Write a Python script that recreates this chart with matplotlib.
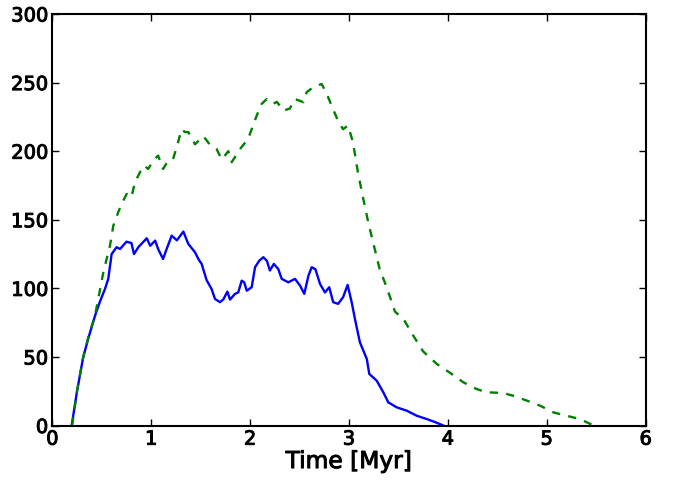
import matplotlib
matplotlib.use("Agg")
import matplotlib.pyplot as plt
import matplotlib.patheffects as pe

blue_x = [0.196, 0.25, 0.313, 0.37, 0.432, 0.48, 0.533, 0.566, 0.60, 0.65, 0.685, 0.75, 0.80, 0.826,
          0.87, 0.955, 0.99, 1.04, 1.07, 1.12, 1.15, 1.207, 1.26, 1.325, 1.375, 1.443, 1.48, 1.51,
          1.56, 1.61, 1.645, 1.696, 1.73, 1.77, 1.797, 1.847, 1.88, 1.915, 1.94, 1.966, 2.016, 2.05,
          2.093, 2.134, 2.17, 2.20, 2.24, 2.285, 2.32, 2.386, 2.454, 2.505, 2.548, 2.59, 2.623, 2.66,
          2.707, 2.757, 2.80, 2.84, 2.89, 2.94, 2.986, 3.027, 3.06, 3.11, 3.18, 3.205, 3.28, 3.347,
          3.397, 3.48, 3.584, 3.685, 3.786, 3.87, 3.953]
blue_y = [0, 25, 50, 65, 80, 90, 99.6, 107, 125, 130, 128.7, 134, 133, 125,
          130, 136.5, 131, 134.8, 128.7, 121.4, 127.5, 138.4, 135, 141.4, 132.4, 126.3, 121, 117.8,
          106, 99.6, 92.3, 89.9, 92, 97.6, 91.8, 96, 97, 105.6, 104.4, 98.3, 100.8, 115.4,
          120.2, 122.7, 120, 113, 117.8, 114, 106.9, 104.4, 106.9, 102, 96, 109.3, 115.4, 114,
          103.2, 97, 100.8, 89.9, 88.7, 93.5, 102.5, 89.9, 77.7, 60.7, 48.5, 37.6, 32.7, 24.2,
          16.9, 13.3, 10.8, 7.1, 4.7, 2.5, 0]

green_x = [0.20, 0.25, 0.313, 0.37, 0.432, 0.516, 0.583, 0.617, 0.667, 0.70, 0.752, 0.80, 0.836,
           0.887, 0.93, 0.97, 1.02, 1.07, 1.12, 1.17, 1.22, 1.258, 1.308, 1.34, 1.375, 1.443, 1.527,
           1.59, 1.66, 1.713, 1.78, 1.814, 1.90, 1.98, 2.067, 2.117, 2.168, 2.235, 2.27, 2.336, 2.40,
           2.454, 2.54, 2.572, 2.64, 2.724, 2.775, 2.825, 2.89, 2.94, 2.99, 3.04, 3.09, 3.145, 3.195,
           3.26, 3.31, 3.38, 3.465, 3.55, 3.65, 3.75, 3.887, 4.02, 4.156, 4.29, 4.39, 4.56, 4.66,
           4.80, 4.93, 5.066, 5.20, 5.335, 5.44, 5.47]
green_y = [0, 25, 50, 66, 80, 111.7, 131, 145.7, 155.5, 161.5, 168.8, 166.4, 177.4,
           184.7, 189.5, 187, 193, 196.8, 187, 193, 194, 203, 216, 214, 213.9, 205, 211,
           205, 201.7, 194, 200, 192, 201.7, 209, 226, 234.5, 238, 234.5, 236, 229.6, 231,
           238, 235.7, 243, 246.7, 249, 241.8, 233, 222, 216, 218.7, 206.6, 184.7, 165, 148,
           128.7, 114, 101, 83, 77.7, 65.5, 54, 44.9, 38.5, 31.5, 26.6, 24.2, 23.7, 21.7,
           18.1, 14.5, 9.6, 7.1, 4.7, 1.1, 0]

x_ticks = [0, 1, 2, 3, 4, 5, 6]
y_ticks = [0, 50, 100, 150, 200, 250, 300]
x_label = "Time [Myr]"

heavy = [pe.withStroke(linewidth=0.7, foreground='black')]

fig = plt.figure(figsize=(6.74, 4.81), dpi=100)
ax = fig.add_axes([0.0776, 0.1133, 0.8804, 0.8555])
ax.plot(blue_x, blue_y, color=(0, 0, 1), lw=1.7, ls='-')
ax.plot(green_x, green_y, color=(0, 0.5, 0), lw=1.7, ls='--', dashes=(3.5, 3.5))
ax.set_xlim(0, 6)
ax.set_ylim(0, 300)
ax.set_xticks(x_ticks)
ax.set_yticks(y_ticks)
ax.tick_params(direction='in', top=True, right=True, length=5, width=1, labelsize=14, pad=3)
for lab in ax.get_xticklabels() + ax.get_yticklabels():
    lab.set_path_effects(heavy)
for s in ax.spines.values():
    s.set_linewidth(1.5)
xl = ax.set_xlabel(x_label, fontsize=16.8, labelpad=1)
xl.set_path_effects(heavy)
fig.savefig("out.png", dpi=100)
